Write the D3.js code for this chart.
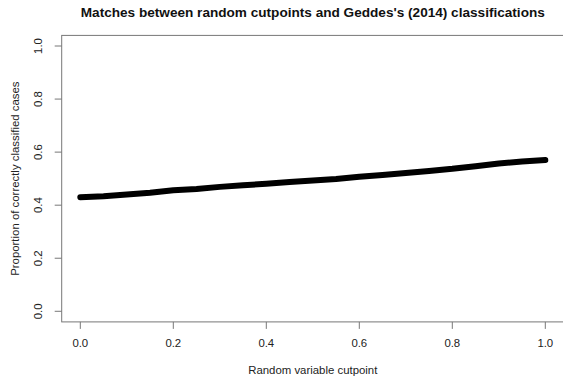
<!DOCTYPE html>
<html>
<head>
<meta charset="utf-8">
<script src="https://cdn.jsdelivr.net/npm/d3@7"></script>
<style>
  body { margin: 0; background: #fff; }
  svg { display: block; font-family: "Liberation Sans", Arial, sans-serif; }
</style>
</head>
<body>
<div id="chart"></div>
<script>
// cutpoint values and matching proportion
var cutpoints = [0, 0.05, 0.10, 0.15, 0.20, 0.25, 0.30, 0.35, 0.40, 0.45, 0.50,
                 0.55, 0.60, 0.65, 0.70, 0.75, 0.80, 0.85, 0.90, 0.95, 1.00];
var proportions = [0.430, 0.434, 0.440, 0.447, 0.456, 0.461, 0.469, 0.475, 0.481, 0.487, 0.493,
                   0.499, 0.507, 0.514, 0.521, 0.529, 0.537, 0.547, 0.557, 0.565, 0.570];
var xTicks = [0, 0.2, 0.4, 0.6, 0.8, 1.0];
var yTicks = [0, 0.2, 0.4, 0.6, 0.8, 1.0];

var width = 563, height = 383;
// plot box edges (window.top is reserved, so avoid that name)
var boxL = 61.7, boxR = 563.9, boxT = 35.4, boxB = 321.9;

var svg = d3.select("#chart").append("svg")
  .attr("width", width)
  .attr("height", height);

// R style axes: 4% padding on each side
var x = d3.scaleLinear().domain([-0.04, 1.04]).range([boxL, boxR]);
var y = d3.scaleLinear().domain([-0.04, 1.04]).range([boxB, boxT]);

var axisCol = "#777", textCol = "#222", fs = 11.4;

// box
svg.append("rect")
  .attr("x", boxL).attr("y", boxT)
  .attr("width", boxR - boxL).attr("height", boxB - boxT)
  .attr("fill", "none").attr("stroke", axisCol).attr("stroke-width", 1);

// x ticks
var xg = svg.append("g");
xg.selectAll("line").data(xTicks).enter().append("line")
  .attr("x1", function (d) { return x(d); })
  .attr("x2", function (d) { return x(d); })
  .attr("y1", boxB).attr("y2", boxB + 7)
  .attr("stroke", axisCol);
xg.selectAll("text").data(xTicks).enter().append("text")
  .attr("x", function (d) { return x(d); })
  .attr("y", 347.3)
  .attr("text-anchor", "middle")
  .attr("font-size", fs)
  .attr("fill", textCol)
  .text(function (d) { return d.toFixed(1); });

// y ticks
var yg = svg.append("g");
yg.selectAll("line").data(yTicks).enter().append("line")
  .attr("x1", boxL - 7).attr("x2", boxL)
  .attr("y1", function (d) { return y(d); })
  .attr("y2", function (d) { return y(d); })
  .attr("stroke", axisCol);
yg.selectAll("text").data(yTicks).enter().append("text")
  .attr("transform", function (d) { return "translate(42," + y(d) + ") rotate(-90)"; })
  .attr("text-anchor", "middle")
  .attr("font-size", fs)
  .attr("fill", textCol)
  .text(function (d) { return d.toFixed(1); });

// the thick line
var line = d3.line()
  .x(function (d, i) { return x(cutpoints[i]); })
  .y(function (d) { return y(d); });

svg.append("path")
  .datum(proportions)
  .attr("d", line)
  .attr("fill", "none")
  .attr("stroke", "#000")
  .attr("stroke-width", 6)
  .attr("stroke-linecap", "round")
  .attr("stroke-linejoin", "round");

// titles
svg.append("text")
  .attr("x", (boxL + boxR) / 2).attr("y", 17)
  .attr("text-anchor", "middle")
  .attr("font-size", 13.6).attr("font-weight", "bold")
  .attr("fill", "#111")
  .text("Matches between random cutpoints and Geddes's (2014) classifications");

svg.append("text")
  .attr("x", (boxL + boxR) / 2).attr("y", 374)
  .attr("text-anchor", "middle")
  .attr("font-size", fs)
  .attr("fill", textCol)
  .text("Random variable cutpoint");

svg.append("text")
  .attr("transform", "translate(19," + (boxT + boxB) / 2 + ") rotate(-90)")
  .attr("text-anchor", "middle")
  .attr("font-size", fs)
  .attr("fill", textCol)
  .text("Proportion of correctly classified cases");
</script>
</body>
</html>
